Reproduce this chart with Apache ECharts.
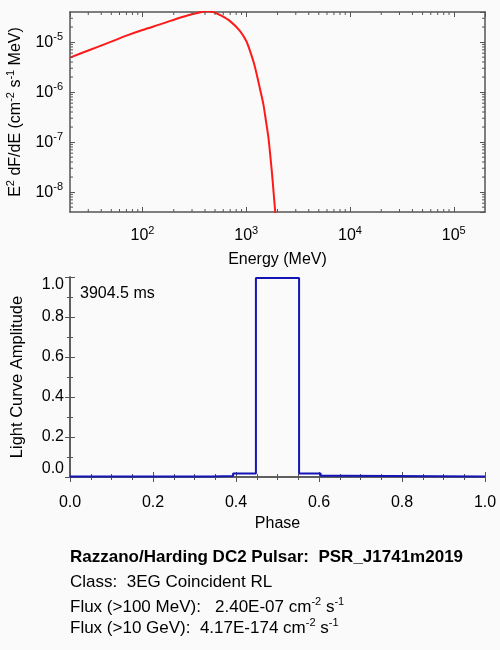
<!DOCTYPE html>
<html>
<head>
<meta charset="utf-8">
<script src="https://cdn.jsdelivr.net/npm/echarts@6/dist/echarts.min.js"></script>
<style>
  html, body { margin: 0; padding: 0; background: #fafafa; }
  #chart { width: 500px; height: 650px; }
</style>
</head>
<body>
<div id="chart"></div>
<script>
// spectrum: energy (MeV) and E^2 dF/dE
const energy = [20, 30, 50, 70, 100, 158, 229, 300, 372, 420, 480, 561, 698, 871, 1000,
  1088, 1180, 1262, 1360, 1462, 1550, 1636, 1700, 1763, 1830, 1897, 2000];
const sed = [4.9e-6, 6.8e-6, 1.02e-5, 1.35e-5, 1.75e-5, 2.37e-5, 3.08e-5, 3.6e-5, 4.0e-5, 4.15e-5,
  4.0e-5, 3.47e-5, 2.63e-5, 1.66e-5, 1.05e-5, 6.6e-6, 3.9e-6, 2.26e-6, 1.13e-6, 5.7e-7,
  2.6e-7, 1.22e-7, 5.7e-8, 2.6e-8, 1.05e-8, 4.2e-9, 1e-9];

// light curve steps (left edge of each bin)
const phase = [0, 0.34, 0.393, 0.448, 0.552, 0.604, 0.66, 1.0];
const amplitude = [0.003, 0.005, 0.017, 0.995, 0.017, 0.006, 0.003, 0.003];

const periodText = '3904.5 ms';
const infoLines = [
  '{b|Razzano/Harding DC2 Pulsar:  PSR_J1741m2019}',
  '{t|Class:  3EG Coincident RL}',
  '{t|Flux (>100 MeV):   2.40E-07 cm}{sup|-2}{t| s}{sup|-1}',
  '{t|Flux (>10 GeV):  4.17E-174 cm}{sup|-2}{t| s}{sup|-1}'
];
const infoY = [557, 582, 607, 628];

const E_MIN = 20, E_MAX = 2e5;
const F_MIN = 4e-9, F_MAX = 4e-5;

// log minor ticks 2..9 x 10^n
function logMinor(lo, hi, d0, d1) {
  const out = [];
  for (let d = d0; d <= d1; d++) {
    for (let m = 2; m <= 9; m++) {
      const v = m * Math.pow(10, d);
      if (v > lo && v < hi) out.push(v);
    }
  }
  return out;
}
const eMinor = logMinor(E_MIN, E_MAX, 1, 5);
const fMinor = logMinor(F_MIN, F_MAX, -9, -5);

const FONT = 'Liberation Sans, Arial, Helvetica, sans-serif';
const AXIS_COLOR = '#555';
const TXT = '#000';

const rich = {
  b: { fontSize: 16, fontFamily: FONT, color: TXT, lineHeight: 22 },
  t: { fontSize: 16, fontFamily: FONT, color: TXT, lineHeight: 22 },
  sup: { fontSize: 11, fontFamily: FONT, color: TXT, verticalAlign: 'top', lineHeight: 11 }
};

function powLabel(v) {
  return '{b|10}{sup|' + Math.round(Math.log10(v)) + '}';
}

function axisBase(extra) {
  return Object.assign({
    axisLine: { show: true, lineStyle: { color: AXIS_COLOR, width: 1.5 } },
    axisTick: { show: true, inside: true, length: 5, lineStyle: { color: AXIS_COLOR } },
    splitLine: { show: false },
    nameTextStyle: { color: TXT, fontSize: 16, fontFamily: FONT },
    axisLabel: { color: TXT, fontSize: 16, fontFamily: FONT }
  }, extra);
}

// short ticks on both sides of the box
function minorTicks(dir, len) {
  return function (params, api) {
    const cs = params.coordSys;
    const p = api.coord([api.value(0), api.value(1)]);
    const st = { stroke: AXIS_COLOR, lineWidth: 1 };
    if (dir === 'x') {
      return { type: 'group', children: [
        { type: 'line', shape: { x1: p[0], y1: cs.y + cs.height, x2: p[0], y2: cs.y + cs.height - len }, style: st },
        { type: 'line', shape: { x1: p[0], y1: cs.y, x2: p[0], y2: cs.y + len }, style: st }
      ] };
    }
    return { type: 'group', children: [
      { type: 'line', shape: { x1: cs.x, y1: p[1], x2: cs.x + len, y2: p[1] }, style: st },
      { type: 'line', shape: { x1: cs.x + cs.width, y1: p[1], x2: cs.x + cs.width - len, y2: p[1] }, style: st }
    ] };
  };
}

const chart = echarts.init(document.getElementById('chart'));

const option = {
  backgroundColor: '#fafafa',
  animation: false,
  grid: [
    { left: 70, top: 12, width: 415, height: 200, outerBoundsMode: 'none', containLabel: false },
    { left: 70, top: 277, width: 415, height: 200, outerBoundsMode: 'none', containLabel: false }
  ],
  xAxis: [
    axisBase({
      gridIndex: 0, type: 'log', min: E_MIN, max: E_MAX, position: 'bottom',
      name: 'Energy (MeV)', nameLocation: 'middle', nameGap: 40,
      axisLabel: { formatter: powLabel, rich: rich, margin: 13, showMinLabel: false, showMaxLabel: false }
    }),
    axisBase({
      gridIndex: 0, type: 'log', min: E_MIN, max: E_MAX, position: 'top',
      axisLabel: { show: false }
    }),
    axisBase({
      gridIndex: 1, type: 'value', min: 0, max: 1, interval: 0.2, position: 'bottom',
      name: 'Phase', nameLocation: 'middle', nameGap: 39,
      minorTick: { show: true, splitNumber: 4, length: 3, lineStyle: { color: AXIS_COLOR } },
      axisLabel: { color: TXT, fontSize: 16, fontFamily: FONT, margin: 18, formatter: v => v.toFixed(1) }
    }),
    axisBase({
      gridIndex: 1, type: 'value', min: 0, max: 1, interval: 0.2, position: 'top',
      minorTick: { show: true, splitNumber: 4, length: 3, lineStyle: { color: AXIS_COLOR } },
      axisLabel: { show: false }
    })
  ],
  yAxis: [
    axisBase({
      gridIndex: 0, type: 'log', min: F_MIN, max: F_MAX, position: 'left',
      name: '{t|E}{sup|2}{t| dF/dE (cm}{sup|-2}{t| s}{sup|-1}{t| MeV)}',
      nameLocation: 'middle', nameGap: 43,
      nameTextStyle: { rich: rich },
      axisLabel: { formatter: powLabel, rich: rich, margin: 7, showMinLabel: false, showMaxLabel: false }
    }),
    axisBase({
      gridIndex: 0, type: 'log', min: F_MIN, max: F_MAX, position: 'right',
      axisLabel: { show: false }
    }),
    axisBase({
      gridIndex: 1, type: 'value', min: 0, max: 1, interval: 0.2, position: 'left',
      name: 'Light Curve Amplitude', nameLocation: 'middle', nameGap: 44,
      nameTextStyle: { color: TXT, fontSize: 16.5, fontFamily: FONT },
      minorTick: { show: true, splitNumber: 2, length: 3, lineStyle: { color: AXIS_COLOR } },
      axisLabel: {
        color: TXT, fontSize: 16, fontFamily: FONT, margin: 6, formatter: v => v.toFixed(1),
        verticalAlignMinLabel: 'bottom', verticalAlignMaxLabel: 'top'
      }
    }),
    axisBase({
      gridIndex: 1, type: 'value', min: 0, max: 1, interval: 0.2, position: 'right',
      minorTick: { show: true, splitNumber: 2, length: 3, lineStyle: { color: AXIS_COLOR } },
      axisLabel: { show: false }
    })
  ],
  series: [
    {
      type: 'line', xAxisIndex: 0, yAxisIndex: 0,
      data: energy.map((e, i) => [e, sed[i]]),
      showSymbol: false, smooth: 0.3, clip: true,
      lineStyle: { color: '#ff1a1a', width: 2 }
    },
    {
      type: 'custom', xAxisIndex: 0, yAxisIndex: 0, silent: true, clip: false, z: 5,
      data: eMinor.map(v => [v, F_MIN]),
      renderItem: minorTicks('x', 3)
    },
    {
      type: 'custom', xAxisIndex: 0, yAxisIndex: 0, silent: true, clip: false, z: 5,
      data: fMinor.map(v => [E_MIN, v]),
      renderItem: minorTicks('y', 3)
    },
    {
      type: 'line', xAxisIndex: 2, yAxisIndex: 2,
      data: phase.map((p, i) => [p, amplitude[i]]),
      step: 'end', showSymbol: false,
      lineStyle: { color: '#1515b5', width: 2 }
    }
  ],
  graphic: [
    {
      type: 'text', left: 80, top: 286,
      style: { text: periodText, fill: TXT, font: '16px ' + FONT }
    }
  ].concat(infoLines.map((s, i) => ({
    type: 'text', x: 70, y: infoY[i],
    style: {
      text: s, verticalAlign: 'middle',
      rich: {
        b: { fontSize: 17, fontWeight: 'bold', fontFamily: FONT, fill: TXT, lineHeight: 22 },
        t: { fontSize: 17, fontFamily: FONT, fill: TXT, lineHeight: 22 },
        sup: { fontSize: 11, fontFamily: FONT, fill: TXT, verticalAlign: 'top', lineHeight: 11 }
      }
    }
  })))
};

chart.setOption(option);
</script>
</body>
</html>
